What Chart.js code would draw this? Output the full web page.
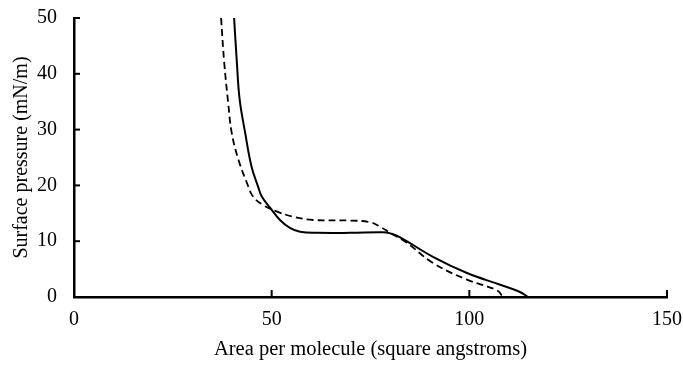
<!DOCTYPE html>
<html>
<head>
<meta charset="utf-8">
<script src="https://cdn.jsdelivr.net/npm/chart.js@4/dist/chart.umd.min.js"></script>
<style>
html,body{margin:0;padding:0;background:#fff;}
#wrap{width:683px;height:365px;position:relative;}
</style>
</head>
<body>
<div id="wrap"><canvas id="c"></canvas></div>
<script>
const solidX = [40.5, 41.2, 41.9, 43.3, 44.9, 46.6, 47.5, 49.6, 52.1, 54.6, 57.2, 61.5, 70, 78, 80, 82.5, 90.8, 99.4, 107.8, 112.8, 114.8];
const solidY = [50, 42, 35.4, 29.4, 23.4, 19.7, 18, 16.0, 13.8, 12.4, 11.7, 11.5, 11.5, 11.6, 11.4, 10.7, 7.2, 4.3, 2.2, 0.9, 0];
const dashX = [37.2, 38, 39, 39.9, 41.6, 44.1, 45.3, 47.8, 51.4, 55.4, 60.5, 70, 74.9, 77.4, 80, 84.2, 90.8, 99.4, 107, 108.5];
const dashY = [50, 42, 34.8, 29.4, 24.6, 19.8, 18, 16.5, 15.3, 14.4, 13.8, 13.7, 13.4, 12.6, 11.5, 9.7, 6.1, 3.1, 1.2, 0];
const xTicks = [0, 50, 100, 150];
const yTicks = [0, 10, 20, 30, 40, 50];
const xTitle = 'Area per molecule (square angstroms)';
const yTitle = 'Surface pressure (mN/m)';

const toPts = (xs, ys) => xs.map((x, i) => ({x: x, y: ys[i]}));

const innerTicks = {
  id: 'innerTicks',
  afterDraw(chart) {
    const ctx = chart.ctx, xs = chart.scales.x, ys = chart.scales.y;
    ctx.save();
    ctx.strokeStyle = '#000';
    ctx.lineWidth = 2;
    xTicks.forEach(v => {
      const px = xs.getPixelForValue(v);
      ctx.beginPath(); ctx.moveTo(px, ys.bottom); ctx.lineTo(px, ys.bottom - 7); ctx.stroke();
    });
    yTicks.forEach(v => {
      const py = ys.getPixelForValue(v);
      ctx.beginPath(); ctx.moveTo(xs.left, py); ctx.lineTo(xs.left + 6, py); ctx.stroke();
    });
    ctx.restore();
  }
};

const serif = size => ({family: '"Liberation Serif", "DejaVu Serif", serif', size: size});

new Chart(document.getElementById('c'), {
  type: 'scatter',
  data: {
    datasets: [
      {data: toPts(solidX, solidY), showLine: true, borderColor: '#000', borderWidth: 2, pointRadius: 0, tension: 0.4, fill: false},
      {data: toPts(dashX, dashY), showLine: true, borderColor: '#000', borderWidth: 1.8, borderDash: [7, 4], pointRadius: 0, tension: 0.4, fill: false}
    ]
  },
  options: {
    responsive: true,
    maintainAspectRatio: false,
    animation: false,
    layout: {padding: {top: 18, right: 16, left: 0, bottom: 0}},
    plugins: {legend: {display: false}, tooltip: {enabled: false}},
    scales: {
      x: {
        type: 'linear', min: 0, max: 150,
        afterBuildTicks: s => { s.ticks = xTicks.map(v => ({value: v})); },
        afterFit: s => { s.height = 68; s.paddingLeft = 0; s.paddingRight = 0; },
        border: {display: true, color: '#000', width: 2.5},
        grid: {display: false},
        ticks: {color: '#000', font: serif(20), padding: 3, maxRotation: 0},
        title: {display: true, text: xTitle, color: '#000', font: serif(20.5), padding: {top: 0, bottom: 3}}
      },
      y: {
        type: 'linear', min: 0, max: 50,
        afterBuildTicks: s => { s.ticks = yTicks.map(v => ({value: v})); },
        afterFit: s => { s.width = 74; s.paddingTop = 0; s.paddingBottom = 0; },
        border: {display: true, color: '#000', width: 2.5},
        grid: {display: false},
        ticks: {color: '#000', font: serif(20), padding: 9},
        title: {display: true, text: yTitle, color: '#000', font: serif(20), padding: {top: 10, bottom: 0}}
      }
    }
  },
  plugins: [innerTicks]
});
</script>
</body>
</html>
